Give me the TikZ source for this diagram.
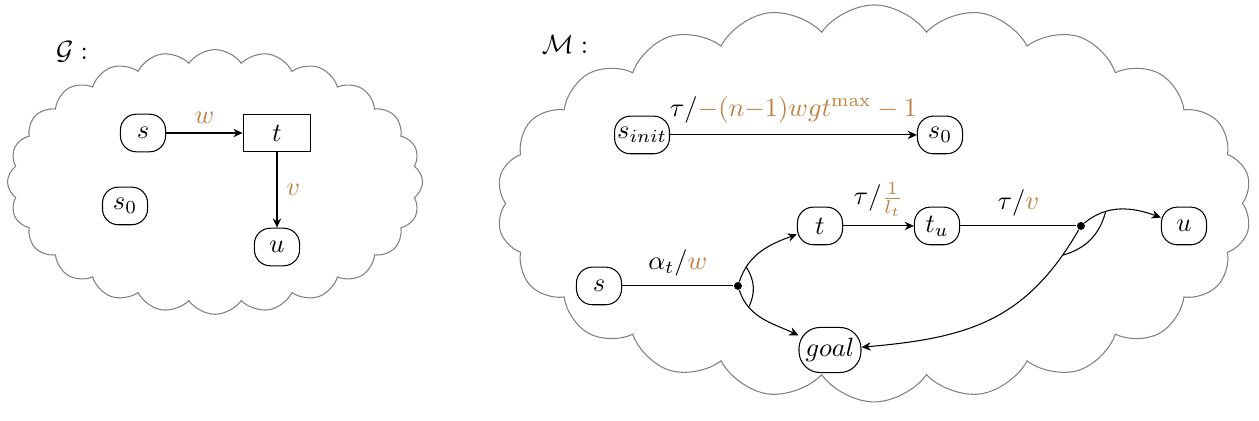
\documentclass[tikz,border=0pt]{standalone}
\usepackage{amsmath}
\usepackage{amssymb}
\usepackage{xcolor}
\usetikzlibrary{arrows.meta,positioning,shapes.symbols,calc}

\begin{document}
\begin{tikzpicture}[
    state/.style={rectangle, draw, rounded corners=6pt, minimum height=0.5cm, minimum width=0.6cm, inner sep=2.5pt},
    task/.style={rectangle, draw, minimum height=0.5cm, minimum width=0.9cm},
    blob/.style={cloud, draw=gray, cloud puffs=22, cloud puff arc=110},
    junction/.style={circle, fill, inner sep=0pt, minimum size=3pt},
    arrow/.style={-{Stealth[length=3.5pt,width=3.2pt]}},
    cost/.style={text=brown}
]
\useasboundingbox (0,0) rectangle (16.745,5.599);

% planning graph
\node[blob, cloud puffs=24, minimum width=5.52cm, minimum height=3.52cm] (cg) at (2.860,3.179) {};
\node (lg) at (0.958,4.908) {$\mathcal{G}:$};
\node[state] (gs)  at (1.902,3.830) {$s$};
\node[task]  (gt)  at (3.684,3.830) {$t$};
\node[state] (gs0) at (1.663,2.860) {$s_0$};
\node[state] (gu)  at (3.684,2.314) {$u$};
\draw[arrow] (gs) -- node[above, cost] {$w$} (gt);
\draw[arrow] (gt) -- node[right, cost] {$v$} (gu);

% compiled model
\node[blob, minimum width=10.04cm, minimum height=5.28cm] (cm) at (11.625,2.893) {};
\node (lm) at (7.515,5.001) {$\mathcal{M}:$};
\node[state, inner xsep=1pt] (si) at (8.539,3.804) {$s_{init}$};
\node[state] (ms0)  at (12.502,3.804) {$s_0$};
\node[state] (ms)   at (7.967,1.796)  {$s$};
\node[state] (mt)   at (10.906,2.594) {$t$};
\node[state] (mtu)  at (12.462,2.594) {$t_u$};
\node[state] (mu)   at (15.747,2.594) {$u$};
\node[state, minimum height=0.6cm, rounded corners=8pt] (goal) at (11.039,0.944) {$goal$};
\node[junction] (j1) at (9.815,1.796) {};
\node[junction] (j2) at (14.377,2.594) {};

\draw[arrow] (si) -- node[above=1pt] {$\tau/\textcolor{brown}{-(n{-}1)wgt^{\max}-1}$} (ms0);
\draw (ms) -- node[above] {$\alpha_t/\textcolor{brown}{w}$} (j1);
\draw[arrow] (mt) -- node[above] {$\tau/\textcolor{brown}{\frac{1}{l_t}}$} (mtu);
\draw (mtu) -- node[above] {$\tau/\textcolor{brown}{v}$} (j2);

\draw[arrow] (j1) to[out=72,in=200] coordinate[pos=0.2] (j1a) (mt);
\draw[arrow] (j1) to[out=-72,in=155] coordinate[pos=0.25] (j1b) (goal);
\draw[arrow] (j2) to[out=40,in=160] coordinate[pos=0.3] (j2a) (mu);
\draw[arrow] (j2) to[out=-120,in=5,looseness=1.1] coordinate[pos=0.1] (j2b) (goal);
\draw (j1a) to[bend left=30] (j1b);
\draw (j2a) to[bend left=30] (j2b);
\end{tikzpicture}
\end{document}
